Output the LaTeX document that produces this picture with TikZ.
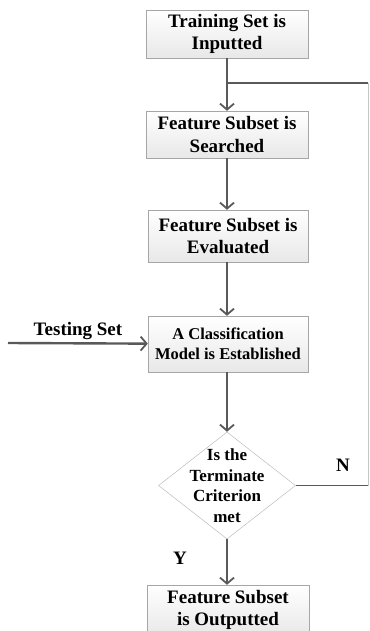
\documentclass[tikz,border=0pt]{standalone}
\usepackage{fontspec}
\setmainfont{Liberation Serif}
\usetikzlibrary{arrows.meta,shapes.geometric,shadows}

\begin{document}
\begin{tikzpicture}[x=1pt, y=-1pt,
  stepbox/.style={draw=gray!70, top color=white, bottom color=gray!18,
    drop shadow={opacity=0.25, shadow xshift=1pt, shadow yshift=-1pt},
    minimum width=162, minimum height=48, inner sep=0pt, align=center,
    font=\fontsize{19}{22.5}\selectfont\bfseries},
  decision/.style={diamond, draw=gray!60, thin, fill=white,
    minimum width=137, minimum height=107, inner sep=0pt},
  flow/.style={draw=gray!70!black, line width=2.4pt,
    -{Straight Barb[length=6pt,width=14pt,line width=1.8pt]}},
  back/.style={draw=gray!70!black, line width=1.8pt},
  lbl/.style={font=\fontsize{19}{22}\selectfont\bfseries, inner sep=0pt}]
\useasboundingbox (0,0) rectangle (369,631);

\node[stepbox] (train) at (227,34) {Training Set is\\Inputted};
\node[stepbox, minimum height=47] (search) at (227,134.5) {Feature Subset is\\Searched};
\node[stepbox, minimum width=160, minimum height=52] (eval) at (228,236) {Feature Subset is\\Evaluated};
\node[stepbox, minimum width=160, minimum height=56,
  font=\fontsize{16.5}{20}\selectfont\bfseries] (model) at (228,344)
  {A Classification\\Model is Established};
\node[decision] (check) at (227,485.5) {};
\node[align=center, inner sep=0pt, font=\fontsize{17}{20.5}\selectfont\bfseries]
  (checktxt) at (check.center) {Is the\\Terminate\\Criterion\\met};
\node[stepbox, minimum height=50] (out) at (228,610) {Feature Subset\\is Outputted};

\coordinate (split) at (train.south |- 0,83);
\coordinate (loopne) at (368,83);
\coordinate (loopse) at (368,485.5);
\coordinate (testin) at (8,343);

\node[lbl] (testlbl) at (78,331) {Testing Set};
\node[lbl] (nlbl) at (343,465) {N};
\node[lbl] (ylbl) at (180,558) {Y};

\draw[flow] (train) -- (search);
\draw[flow] (search) -- (eval.north -| search.south);
\draw[flow] (eval.south -| search.south) -- (model.north -| search.south);
\draw[flow] (model.south -| search.south) -- (check);
\draw[flow] (check) -- (out.north -| check.south);
\draw[flow] (testin) -- (model);

% loop back when the criterion is not met
\draw[back] (check.east) -- (loopse);
\draw[draw=gray!45, thin] (loopse) -- (loopne);
\draw[back] (loopne) -- (split);
\end{tikzpicture}
\end{document}
